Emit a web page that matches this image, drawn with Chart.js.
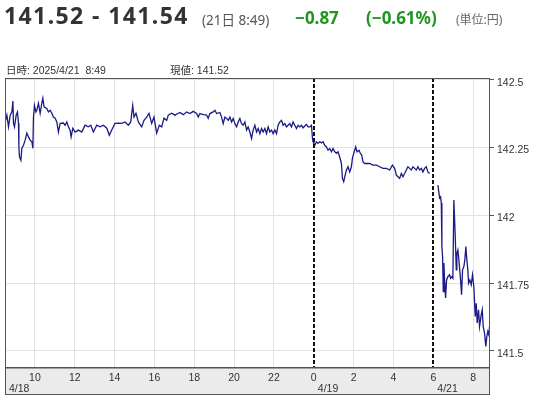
<!DOCTYPE html>
<html><head><meta charset="utf-8">
<script src="https://cdn.jsdelivr.net/npm/chart.js@4.4.1/dist/chart.umd.min.js"></script>
<style>
html,body{margin:0;padding:0;background:#fff;width:534px;height:400px;overflow:hidden;}
#wrap{position:relative;width:534px;height:400px;}
canvas{position:absolute;left:0;top:0;}
.t{position:absolute;white-space:nowrap;line-height:1;}
#price{left:4px;top:-1px;font:bold 23px "Noto Sans","Noto Sans CJK JP",sans-serif;letter-spacing:1.4px;color:#333;}
#when{left:202px;top:9px;font:13.5px "Noto Sans","Noto Sans CJK JP",sans-serif;color:#555;}
.chg{top:6px;font:bold 17px "Noto Sans","Noto Sans CJK JP",sans-serif;color:#1e961e;}
#unit{left:456px;top:10px;font:12px "Noto Sans","Noto Sans CJK JP",sans-serif;color:#666;}
.info{top:62px;font:10.5px "Liberation Sans Narrow","Liberation Sans","Noto Sans CJK JP",sans-serif;color:#333;}
</style></head>
<body><div id="wrap">
<canvas id="c" width="534" height="400"></canvas>
<div class="t" id="price">141.52 - 141.54</div>
<div class="t" id="when">(21日 8:49)</div>
<div class="t chg" style="left:295px">&minus;0.87</div>
<div class="t chg" style="left:366px">(&minus;0.61%)</div>
<div class="t" id="unit">(単位:円)</div>
<div class="t info" style="left:6px">日時: 2025/4/21&nbsp; 8:49</div>
<div class="t info" style="left:170px">現値: 141.52</div>
</div>
<script>
// x values: hours on a compressed session axis (4/18 0:00 = 0, 4/19 0:00 = 24, 4/21 6:00 = 30)
const hourTicks=[10,12,14,16,18,20,22,24,26,28,30,32];
const hourLabels=['10','12','14','16','18','20','22','0','2','4','6','8'];
const dateTicks=[8.5,24,30];
const dateLabels=['4/18','4/19','4/21'];
const sessionBreaks=[24,30];
const yTicks=[141.5,141.75,142,142.25,142.5];
const yLabels=['141.5','141.75','142','142.25','142.5'];

const t18=[8.510,8.595,8.675,8.761,8.846,8.896,8.926,8.976,9.061,9.127,
9.177,9.197,9.227,9.297,9.347,9.427,9.513,9.598,9.678,9.763,
9.848,9.899,9.929,9.979,10.049,10.099,10.179,10.264,10.350,10.400,
10.465,10.600,10.680,10.766,10.851,10.931,11.016,11.102,11.182,11.267,
11.432,11.518,11.603,11.683,11.768,11.818,11.904,12.019,12.184,12.355,
12.520,12.685,12.806,12.936,13.107,13.272,13.437,13.608,13.738,13.858,
14.024,14.189,14.360,14.525,14.690,14.811,14.911,14.976,15.076,15.192,
15.362,15.477,15.613,15.728,15.863,15.979,16.114,16.244,16.365,16.480,
16.615,16.695,16.866,17.031,17.197,17.282,17.447,17.618,17.783,17.949,
18.119,18.199,18.284,18.450,18.620,18.700,18.786,18.951,19.036,19.122,
19.287,19.372,19.452,19.538,19.623,19.703,19.788,19.873,19.954,20.039,
20.124,20.204,20.289,20.375,20.455,20.540,20.625,20.705,20.791,20.876,
20.956,21.041,21.127,21.207,21.292,21.377,21.457,21.543,21.628,21.708,
21.793,21.878,21.959,22.044,22.129,22.209,22.294,22.380,22.460,22.545,
22.630,22.710,22.796,22.881,22.961,23.046,23.132,23.212,23.297,23.382,
23.462,23.548,23.633,23.713,23.798,23.883,23.934,23.964];
const p18=[142.344,142.369,142.326,142.369,142.381,142.421,142.339,142.326,142.369,142.381,
142.339,142.252,142.215,142.203,142.247,142.258,142.277,142.303,142.289,142.277,
142.271,142.247,142.362,142.405,142.381,142.387,142.413,142.376,142.413,142.431,
142.399,142.394,142.381,142.387,142.376,142.362,142.358,142.344,142.307,142.339,
142.340,142.332,142.344,142.326,142.314,142.289,142.321,142.307,142.314,142.307,
142.332,142.326,142.332,142.307,142.332,142.326,142.332,142.321,142.295,142.314,
142.339,142.340,142.339,142.344,142.332,142.344,142.405,142.362,142.376,142.344,
142.326,142.350,142.362,142.376,142.339,142.362,142.303,142.332,142.326,142.358,
142.350,142.369,142.376,142.369,142.376,142.379,142.371,142.381,142.375,142.383,
142.375,142.362,142.375,142.371,142.369,142.357,142.375,142.381,142.387,142.375,
142.379,142.362,142.338,142.362,142.357,142.350,142.362,142.344,142.357,142.338,
142.326,142.344,142.357,142.338,142.332,142.344,142.314,142.326,142.307,142.283,
142.314,142.332,142.307,142.320,142.301,142.320,142.307,142.320,142.301,142.326,
142.307,142.314,142.301,142.314,142.301,142.332,142.344,142.350,142.332,142.338,
142.326,142.332,142.338,142.326,142.344,142.332,142.320,142.332,142.326,142.332,
142.322,142.329,142.335,142.326,142.326,142.332,142.283,142.271];

const t19=[24.000,24.049,24.135,24.215,24.300,24.385,24.465,24.550,24.636,24.716,
24.801,24.886,24.966,25.052,25.137,25.217,25.302,25.387,25.437,25.502,
25.553,25.638,25.718,25.803,25.888,25.938,26.004,26.104,26.169,26.269,
26.340,26.405,26.470,26.555,26.640,26.806,26.971,27.142,27.307,27.473,
27.643,27.808,27.944,28.059,28.144,28.224,28.309,28.394,28.475,28.560,
28.645,28.725,28.810,28.895,28.976,29.061,29.146,29.226,29.312,29.397,
29.477,29.562,29.647,29.728,29.813];
const p19=[142.265,142.258,142.271,142.265,142.271,142.267,142.271,142.258,142.252,142.240,
142.246,142.234,142.246,142.234,142.228,142.234,142.215,142.191,142.136,142.124,
142.142,142.167,142.179,142.160,142.179,142.210,142.228,142.252,142.234,142.240,
142.228,142.222,142.197,142.191,142.191,142.191,142.185,142.185,142.179,142.173,
142.173,142.167,142.185,142.173,142.148,142.142,142.136,142.154,142.142,142.154,
142.167,142.179,142.173,142.167,142.179,142.173,142.167,142.179,142.167,142.173,
142.160,142.173,142.179,142.160,142.154];

const t21=[30.229,30.315,30.365,30.400,30.430,30.465,30.500,30.530,30.565,30.615,
30.665,30.731,30.816,30.866,30.931,30.981,31.031,31.101,31.151,31.182,
31.232,31.282,31.367,31.417,31.467,31.533,31.583,31.633,31.683,31.733,
31.768,31.833,31.904,31.969,32.034,32.104,32.154,32.204,32.269,32.320,
32.405,32.455,32.505,32.570,32.635,32.685,32.735,32.785,32.820];
const p21=[142.111,142.064,142.068,142.045,141.885,141.848,141.719,141.824,141.762,141.695,
141.762,141.774,141.781,141.768,141.774,141.768,142.056,141.921,141.799,141.860,
141.872,141.836,141.762,141.707,141.799,141.811,141.836,141.885,141.836,141.799,
141.750,141.762,141.744,141.781,141.737,141.627,141.676,141.603,141.652,141.590,
141.633,141.652,141.590,141.566,141.517,141.554,141.572,141.560,141.590];

const pts=(t,p)=>t.map((x,i)=>({x:x,y:p[i]}));
const series=[...pts(t18,p18),...pts(t19,p19),{x:30,y:null},...pts(t21,p21)];

const tickFont={family:'"Liberation Sans Narrow","Liberation Sans",sans-serif',size:10.5};
const BOX_H=28;

const framePlugin={
  id:'frame',
  beforeDraw(chart){
    const {ctx,chartArea:a}=chart;
    ctx.save();
    ctx.fillStyle='#ebebeb';
    ctx.fillRect(a.left,a.bottom,a.right-a.left,BOX_H);
    ctx.restore();
  },
  afterDraw(chart){
    const {ctx,chartArea:a,scales:{x}}=chart;
    ctx.save();
    ctx.strokeStyle='#111';ctx.lineWidth=2;ctx.setLineDash([4,2]);
    sessionBreaks.forEach(v=>{
      const px=Math.round(x.getPixelForValue(v));
      ctx.beginPath();ctx.moveTo(px,a.top);ctx.lineTo(px,a.bottom);ctx.stroke();
    });
    ctx.setLineDash([]);
    ctx.strokeStyle='#555';ctx.lineWidth=1;
    ctx.strokeRect(a.left+0.5,a.top+0.5,a.right-a.left-1,a.bottom-a.top);
    ctx.strokeRect(a.left+0.5,a.bottom+0.5,a.right-a.left-1,BOX_H-1);
    ctx.beginPath();ctx.moveTo(a.left,a.bottom+1);ctx.lineTo(a.right,a.bottom+1);ctx.stroke();
    ctx.fillStyle='#333';
    ctx.font='10.5px "Liberation Sans Narrow","Liberation Sans",sans-serif';
    ctx.textAlign='left';ctx.textBaseline='alphabetic';
    dateTicks.forEach((v,i)=>ctx.fillText(dateLabels[i],x.getPixelForValue(v)+4,392));
    ctx.restore();
  }
};

new Chart(document.getElementById('c'),{
  type:'line',
  data:{datasets:[{data:series,borderColor:'#1b1b86',borderWidth:1.3,pointRadius:0,tension:0,spanGaps:false}]},
  options:{
    responsive:false,animation:false,
    layout:{padding:{left:5,top:78,right:0,bottom:5}},
    plugins:{legend:{display:false},tooltip:{enabled:false}},
    scales:{
      x:{type:'linear',min:8.5,max:32.845,
        afterBuildTicks:s=>{s.ticks=hourTicks.map(v=>({value:v}));},
        afterFit:s=>{s.height=BOX_H;},
        ticks:{autoSkip:false,maxRotation:0,padding:5,color:'#333',font:tickFont,
          callback:v=>hourLabels[hourTicks.indexOf(v)]},
        grid:{drawTicks:false,color:c=>sessionBreaks.includes(c.tick&&c.tick.value)?'rgba(0,0,0,0)':'#e2e2e2'},
        border:{display:false}},
      y:{position:'right',min:141.441,max:142.506,
        afterBuildTicks:s=>{s.ticks=yTicks.map(v=>({value:v}));},
        afterFit:s=>{s.width=44;},
        ticks:{padding:3,labelOffset:3,color:'#333',font:tickFont,
          callback:v=>yLabels[yTicks.indexOf(v)]},
        grid:{color:'#e2e2e2',tickLength:4,tickColor:'#555'},
        border:{display:false}}
    }
  },
  plugins:[framePlugin]
});
</script>
</body></html>
